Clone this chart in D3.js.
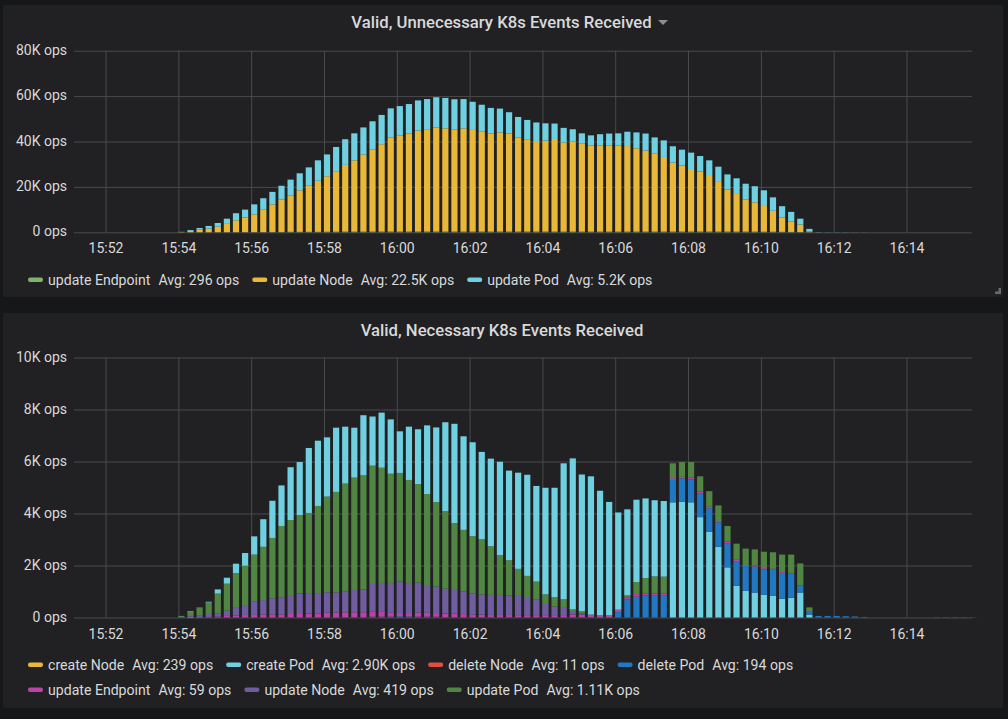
<!DOCTYPE html>
<html>
<head>
<meta charset="utf-8">
<script src="https://d3js.org/d3.v7.min.js"></script>
<style>
  body{margin:0;background:#161719;overflow:hidden;}
  text{font-family:Roboto,sans-serif;fill:#d8d9da;}
  .title{font-weight:500;font-size:16.7px;text-anchor:middle;}
  .tick text{font-size:14px;}
  .tick line{stroke:#4b4b4e;}
  .legend text{font-size:14.1px;}
</style>
</head>
<body>
<svg id="chart" width="1008" height="719"></svg>
<script>
//first bar sits at 15:54:05, one bar every 15s
const firstBar=new Date(2019,0,1,15,54,5);
const stepSec=15;
const tickTimes=[52,54,56,58,60,62,64,66,68,70,72,74].map(m=>new Date(2019,0,1,15,m));

//top chart
const topNames=['update Endpoint','update Node','update Pod'];
const topAvgs=['Avg: 296 ops','Avg: 22.5K ops','Avg: 5.2K ops'];
const topColours=['#7eb26d','#eab839','#6ed0e0'];
const topTicks=[0,20000,40000,60000,80000];
const topEndpoint=[0,0,0,0,50,50,100,100,100,100,150,150,200,200,200,200,250,250,300,300,300,350,350,400,400,400,400,450,450,450,450,450,450,450,450,450,450,450,450,450,450,500,500,500,500,500,500,500,500,500,500,500,500,450,450,450,400,400,400,350,350,300,300,300,250,250,200,150,100,50,0];
const topNode=[100,600,1300,1600,2450,3650,5200,6400,7800,10000,12150,14250,16100,18300,20300,22500,24450,26650,29400,31400,33900,36050,38450,41300,42300,43100,44400,44950,45650,45350,44750,45350,44650,43850,43050,43550,43050,41350,40550,39750,39950,40600,39100,39400,38500,37800,37800,37800,37800,37500,36500,35500,34100,32750,30250,28950,27500,26300,24400,21850,18450,16600,14100,12900,11350,9250,6300,4550,3300,350,0];
const topPod=[100,400,600,1200,1600,2300,3100,3500,4400,4900,5500,6100,6900,7500,8100,9000,9600,10700,11300,11900,12000,12500,12900,12900,12900,13000,13300,13300,13400,13400,13400,12900,12400,11900,11300,10500,9400,9000,8500,8200,7600,6800,6400,5500,4600,4400,4900,5200,5300,6300,7000,7500,7200,7300,7200,7000,7200,6900,6900,6700,6700,6900,7000,7100,6900,5900,5000,4300,2600,1100,100,60,60,60,40,30];

//bottom chart
const botNames=['create Node','create Pod','delete Node','delete Pod','update Endpoint','update Node','update Pod'];
const botAvgs=['Avg: 239 ops','Avg: 2.90K ops','Avg: 11 ops','Avg: 194 ops','Avg: 59 ops','Avg: 419 ops','Avg: 1.11K ops'];
const botColours=['#eab839','#6ed0e0','#e24d42','#1f78c1','#ba43a9','#705da0','#508642'];
const botTicks=[0,2000,4000,6000,8000,10000];
const createNode=[0,20,10];
const deleteNode=[];
const createPod=[10,20,0,30,160,230,360,490,700,1060,1430,1560,2030,2040,2500,2510,2280,2470,2190,1920,2310,1890,2120,2090,1600,2050,2110,2640,2870,3420,3820,3600,3610,3360,3370,3590,3450,3700,3890,3680,4100,4210,5230,5810,5260,5320,4790,4360,3740,3310,3165,3060,2930,2910,4430,4450,4430,3860,3290,2720,1930,1220,1020,960,870,830,720,760,960,100];
const deletePod=[0,0,0,0,0,0,0,0,0,0,0,0,0,0,0,0,0,0,10,10,10,30,30,30,50,40,30,30,30,20,20,20,10,10,10,10,10,10,10,10,10,10,10,10,10,10,0,0,210,700,800,850,840,840,860,900,880,910,910,940,930,950,960,1000,980,1010,1000,930,260,110,60,60,60,50,40,20,0,0,0,0,0,0,0,10,10,10,10,10];
const updateEndpoint=[0,10,10,20,40,60,70,100,100,120,120,120,135,135,150,160,190,190,190,190,190,190,190,150,120,130,160,150,140,130,130,110,100,100,90,90,90,80,80,80,80,80,80,110,100,100,85,85,90,75,100,80,80,80,70,60,80,70,60,50,60,50,40,40,50,30,30,20,20,30];
const updateNode=[0,30,50,116,120,200,300,380,510,550,620,660,695,785,790,780,780,780,810,860,880,1070,1110,1150,1220,1160,1150,1070,1020,960,910,870,810,770,770,770,750,740,660,610,430,330,280,90,50];
const updatePod=[50,170,320,440,760,1040,1340,1510,1810,2050,2320,2740,2920,3020,3080,3350,3680,3860,4140,4320,4390,4550,4430,4200,4170,3960,3790,3500,3250,2980,2570,2370,2210,2130,1870,1530,1350,1040,850,680,370,360,330,100,80,0,0,0,0,75,465,590,660,650,570,570,590,590,600,600,600,620,630,620,630,640,670,710,840,150];
//create Pod is stacked on top until 16:07:30, at the bottom from there on
const flipIndex=54;

const x=d3.scaleTime()
    .domain([d3.timeSecond.offset(tickTimes[0],-51.9),d3.timeSecond.offset(tickTimes[0],1428.3)])
    .range([74,972]);
const barWidth=6.2;
const fmtOps=d=>d===0?'0 ops':`${d/1000}K ops`;

const svg=d3.select('#chart');

//builds rows {time, seriesName:value} from arrays
const makeRows=(names,arrays)=>{
    const n=d3.max(arrays,a=>a.length);
    return d3.range(n).map(i=>{
        const row={time:d3.timeSecond.offset(firstBar,i*stepSec)};
        names.forEach((name,j)=>row[name]=arrays[j][i]||0);
        return row;
    });
};

const drawPanel=(opt)=>{
    svg.append('rect')
        .attr('x',3).attr('y',opt.box[0])
        .attr('width',1000).attr('height',opt.box[1]-opt.box[0])
        .attr('rx',2)
        .attr('fill','#212124');

    svg.append('text').attr('class','title')
        .attr('x',opt.titleX).attr('y',opt.titleY)
        .text(opt.title);

    const y=d3.scaleLinear().domain(opt.yDomain).range(opt.yRange);
    const graph=svg.append('g');

    //gridlines come from the axis ticks
    graph.append('g')
        .attr('transform','translate(74,0)')
        .call(d3.axisLeft(y).tickValues(opt.ticks).tickFormat(fmtOps).tickSize(-898).tickPadding(7))
        .call(g=>g.select('.domain').remove())
        .call(g=>g.selectAll('text').attr('y',-0.8));

    graph.append('g')
        .attr('transform',`translate(0,${opt.yRange[0]})`)
        .call(d3.axisBottom(x).tickValues(tickTimes).tickFormat(d3.timeFormat('%H:%M'))
            .tickSize(opt.yRange[1]-opt.yRange[0]).tickPadding(0))
        .call(g=>g.select('.domain').remove())
        .call(g=>g.selectAll('text').attr('y',21).attr('dy','0'));

    //stacked bars, one or more blocks of rows with their own key order
    opt.blocks.forEach(block=>{
        const layers=d3.stack().keys(block.keys)(block.rows);
        graph.append('g').selectAll('g')
            .data(layers)
            .join('g')
            .attr('fill',d=>opt.colours[opt.names.indexOf(d.key)])
            .selectAll('rect')
            .data(d=>d.filter(p=>p[1]>p[0]))
            .join('rect')
            .attr('x',d=>x(d.data.time)-barWidth/2)
            .attr('width',barWidth)
            .attr('y',d=>y(d[1]))
            .attr('height',d=>y(d[0])-y(d[1]));
    });

    //legend flows left to right, wraps at the given counts
    opt.legendRows.forEach((idx,r)=>{
        const g=svg.append('g').attr('class','legend');
        let cx=28;
        const ly=opt.legendY[r];
        idx.forEach(i=>{
            g.append('rect')
                .attr('x',cx).attr('y',ly-2.5)
                .attr('width',15).attr('height',4.5).attr('rx',2)
                .attr('fill',opt.colours[i]);
            cx+=20;
            const name=g.append('text').attr('x',cx).attr('y',ly+5).text(opt.names[i]);
            cx+=name.node().getComputedTextLength()+8;
            const avg=g.append('text').attr('x',cx).attr('y',ly+5).text(opt.avgs[i]);
            cx+=avg.node().getComputedTextLength()+13;
        });
    });
};

drawPanel({
    box:[5,297],
    title:'Valid, Unnecessary K8s Events Received',
    titleX:501.5,titleY:28,
    yDomain:[0,80000],yRange:[232.3,50.7],ticks:topTicks,
    names:topNames,colours:topColours,avgs:topAvgs,
    blocks:[{keys:topNames,rows:makeRows(topNames,[topEndpoint,topNode,topPod])}],
    legendRows:[[0,1,2]],legendY:[280]
});

const botRows=makeRows(botNames,[createNode,createPod,deleteNode,deletePod,updateEndpoint,updateNode,updatePod]);
const earlyKeys=['create Node','delete Node','delete Pod','update Endpoint','update Node','update Pod','create Pod'];
drawPanel({
    box:[313,708],
    title:'Valid, Necessary K8s Events Received',
    titleX:502,titleY:335.5,
    yDomain:[0,10000],yRange:[617.5,357.5],ticks:botTicks,
    names:botNames,colours:botColours,avgs:botAvgs,
    blocks:[
        {keys:earlyKeys,rows:botRows.slice(0,flipIndex)},
        {keys:botNames,rows:botRows.slice(flipIndex)}
    ],
    legendRows:[[0,1,2,3],[4,5,6]],legendY:[665,690]
});

//dropdown caret next to the first title
svg.append('path')
    .attr('d',d3.line()([[658,20],[668,20],[663,25]]))
    .attr('fill','#8e8e90');
//resize handle
svg.append('path')
    .attr('d',d3.line()([[1001,288],[1001,294],[995,294],[995,291.5],[998.5,291.5],[998.5,288]]))
    .attr('fill','#6a6a6c');
</script>
</body>
</html>
